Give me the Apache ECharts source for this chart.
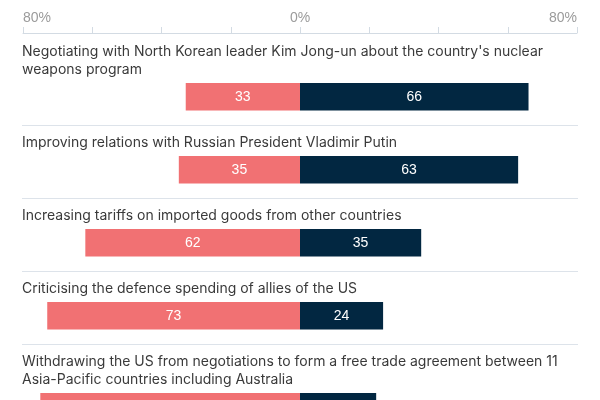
<!DOCTYPE html>
<html><head><meta charset="utf-8">
<script src="https://cdn.jsdelivr.net/npm/echarts@6/dist/echarts.min.js"></script>
<style>html,body{margin:0;padding:0;background:#fff;overflow:hidden}#c{width:600px;height:450px}</style>
</head><body><div id="c"></div>
<script>
var categories = [
  "Negotiating with North Korean leader Kim Jong-un about the country's nuclear\nweapons program",
  "Improving relations with Russian President Vladimir Putin",
  "Increasing tariffs on imported goods from other countries",
  "Criticising the defence spending of allies of the US",
  "Withdrawing the US from negotiations to form a free trade agreement between 11\nAsia-Pacific countries including Australia"
];
var oppose = [33, 35, 62, 73, 75];
var support = [66, 63, 35, 24, 22];
var axisMin = -80, axisMax = 80, axisStep = 20;
var tickLabelValues = [-80, 0, 80];

var PINK = '#f17173', NAVY = '#022741';
var LEFT = 23, RIGHT = 23;
var BAR_H = 27.5, LINE_H = 18;
var grids = [], xAxes = [], yAxes = [], series = [], graphics = [];
var S = 33.5;
categories.forEach(function (cat, i) {
  var n = cat.split('\n').length;
  if (i > 0) {
    graphics.push({type: 'line', shape: {x1: LEFT - 1, y1: Math.round(S) + 0.5, x2: 600 - RIGHT + 1, y2: Math.round(S) + 0.5},
      style: {stroke: '#dde3ea', lineWidth: 1}, silent: true});
  }
  var barTop = S + 31.5 + LINE_H * (n - 1);
  graphics.push({type: 'text', left: LEFT - 1, top: barTop - 4 - LINE_H * n,
    style: {text: cat, fill: '#3a3a3a', font: '14px Inter', lineHeight: LINE_H}, silent: true});
  grids.push({left: LEFT, right: RIGHT, top: barTop, height: BAR_H});
  xAxes.push({gridIndex: i, type: 'value', min: axisMin, max: axisMax, interval: axisStep, show: false});
  yAxes.push({gridIndex: i, type: 'category', data: [cat], show: false});
  var lbl = {show: true, position: 'inside', color: '#fff', fontSize: 14, fontFamily: 'Liberation Sans',
    formatter: function (p) { return Math.abs(p.value); }};
  series.push({type: 'bar', xAxisIndex: i, yAxisIndex: i, stack: 's' + i, barWidth: '100%',
    data: [-oppose[i]], itemStyle: {color: PINK}, label: lbl, silent: true});
  series.push({type: 'bar', xAxisIndex: i, yAxisIndex: i, stack: 's' + i, barWidth: '100%',
    data: [support[i]], itemStyle: {color: NAVY}, label: lbl, silent: true});
  S = barTop + BAR_H + 14;
});
grids.push({left: LEFT, right: RIGHT, top: 33, height: 1});
var ai = grids.length - 1;
xAxes.push({gridIndex: ai, type: 'value', position: 'top', min: axisMin, max: axisMax, interval: axisStep,
  axisLine: {show: true, lineStyle: {color: '#d3dbe3', width: 1}},
  axisTick: {show: true, length: 6, lineStyle: {color: '#d3dbe3'}},
  splitLine: {show: false},
  axisLabel: {show: true, margin: 8, color: '#9b9b9b', fontSize: 14, fontFamily: 'Liberation Sans',
    alignMinLabel: 'left', alignMaxLabel: 'right',
    formatter: function (v) { return tickLabelValues.indexOf(v) >= 0 ? Math.abs(v) + '%' : ''; }}});
yAxes.push({gridIndex: ai, type: 'category', data: [''], show: false});

var chart = echarts.init(document.getElementById('c'));
chart.setOption({animation: false, grid: grids, xAxis: xAxes, yAxis: yAxes, series: series, graphic: graphics});
</script></body></html>
